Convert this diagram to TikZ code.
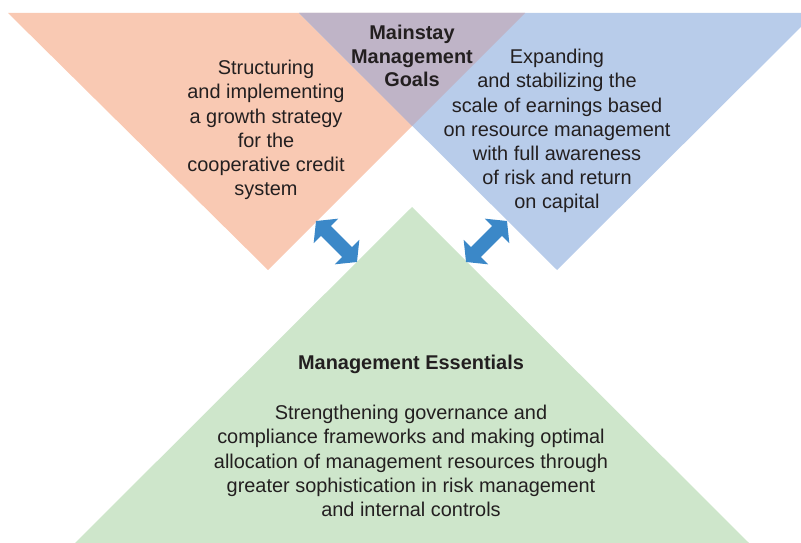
\documentclass[tikz,border=0pt]{standalone}
\usepackage{fontspec}
\setmainfont{Liberation Sans}
\usetikzlibrary{arrows.meta,positioning}

\definecolor{goalRed}{HTML}{F9C9B3}
\definecolor{goalBlue}{HTML}{B8CCEA}
\definecolor{goalMix}{HTML}{BFB4C7}
\definecolor{baseGreen}{HTML}{CEE6CB}
\definecolor{linkBlue}{HTML}{3B88C8}
\definecolor{inkGray}{HTML}{231F20}

\begin{document}
\begin{tikzpicture}[
    x=0.3mm, y=-0.3mm,
    bodyText/.style={align=center, text=inkGray, font=\fontsize{17}{20.6}\selectfont, inner sep=0pt},
    headText/.style={bodyText, font=\fontsize{17}{20.2}\selectfont\bfseries},
    twoway/.style={draw=linkBlue, line width=12pt, {Triangle[width=29pt,length=12pt]}-{Triangle[width=29pt,length=12pt]}}
]

\clip (0,0) rectangle (801,543);

% Goal triangles
\fill[goalRed] (8,13) -- (525,13) -- (268,270) -- cycle;
\fill[goalBlue] (299,13) -- (815,13) -- (557,270) -- cycle;
\fill[goalMix] (299,13) -- (525,13) -- (412,126) -- cycle;

% Essentials triangle
\fill[baseGreen] (412,207) -- (749,543) -- (75,543) -- cycle;

% Goals
\node[headText] (goalsTitle) at (412,56) {Mainstay\\Management\\Goals};
\node[bodyText] (leftGoal) at (266,130) {Structuring\\and implementing\\a growth strategy\\for the\\cooperative credit\\system};
\node[bodyText] (rightGoal) at (557,131) {Expanding\\and stabilizing the\\scale of earnings based\\on resource management\\with full awareness\\of risk and return\\on capital};

% Essentials
\node[headText] (baseTitle) at (411,364) {Management Essentials};
\node[bodyText] (baseText) at (411,461) {Strengthening governance and\\compliance frameworks and making optimal\\allocation of management resources through\\greater sophistication in risk management\\and internal controls};

% Links between goals and essentials
\coordinate (leftTop) at (316,221);
\coordinate (leftEnd) at (357,262);
\coordinate (rightTop) at (507,221);
\coordinate (rightEnd) at (466,262);
\draw[twoway] (leftTop) -- (leftEnd);
\draw[twoway] (rightTop) -- (rightEnd);

\end{tikzpicture}
\end{document}
